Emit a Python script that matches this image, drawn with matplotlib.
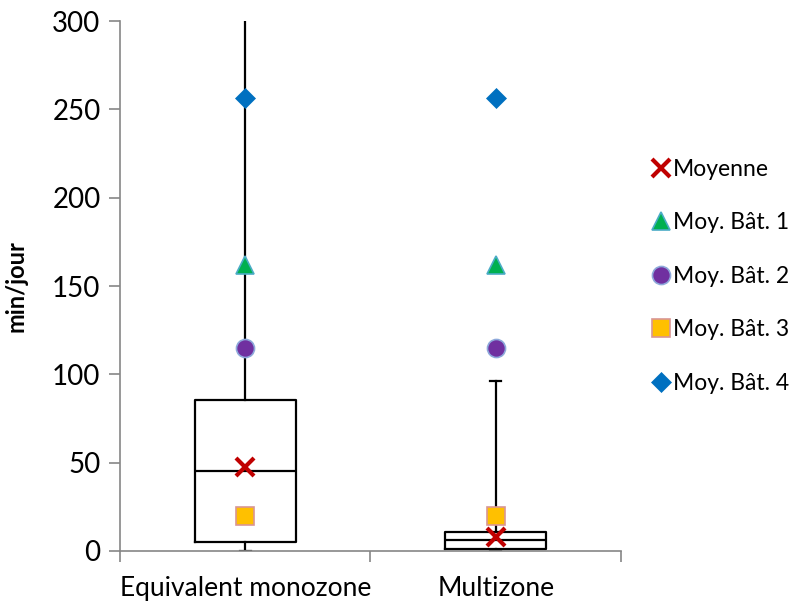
import matplotlib
matplotlib.use("Agg")
import matplotlib.pyplot as plt

plt.rcParams['font.family'] = ['Lato', 'DejaVu Sans']

# Données
categories = ['Equivalent monozone', 'Multizone']
whis_bas = [0, 0]
q1 = [5, 1.3]
mediane = [45.4, 6.0]
q3 = [85.5, 10.9]
whis_haut = [330, 96]
moyenne = [47.5, 7.7]
moy_bat1 = [162, 162]
moy_bat2 = [115, 115]
moy_bat3 = [20, 20]
moy_bat4 = [256.5, 256.5]

pos = [1, 2]

fig = plt.figure(figsize=(8.03, 6.06), dpi=100)
ax = fig.add_axes([0.1494, 0.0908, 0.6239, 0.8745])

stats = []
for i in range(len(categories)):
    stats.append(dict(whislo=whis_bas[i], q1=q1[i], med=mediane[i],
                      q3=q3[i], whishi=whis_haut[i], fliers=[]))

ax.bxp(stats, positions=pos, widths=0.404, capwidths=0.045,
       showfliers=False,
       boxprops=dict(color='black', linewidth=1.6),
       medianprops=dict(color='black', linewidth=1.6),
       whiskerprops=dict(color='black', linewidth=1.6),
       capprops=dict(color='black', linewidth=1.6))

ax.plot(pos, moyenne, ls='none', marker='x', ms=13, mew=3,
        color='#C00000', label='Moyenne', zorder=5)
ax.plot(pos, moy_bat1, ls='none', marker='^', ms=13, mew=1.2,
        mfc='#00B050', mec='#4BACC6', label='Moy. Bât. 1', zorder=5)
ax.plot(pos, moy_bat2, ls='none', marker='o', ms=13, mew=1.2,
        mfc='#7030A0', mec='#8EA9DB', label='Moy. Bât. 2', zorder=5)
ax.plot(pos, moy_bat3, ls='none', marker='s', ms=13, mew=1.2,
        mfc='#FFC000', mec='#D99694', label='Moy. Bât. 3', zorder=5)
ax.plot(pos, moy_bat4, ls='none', marker='D', ms=10, mew=0.5,
        mfc='#0070C0', mec='#0070C0', label='Moy. Bât. 4', zorder=5)

ax.set_xlim(0.5, 2.5)
ax.set_ylim(0, 300)
ax.set_yticks(range(0, 301, 50))
ax.set_xticks([0.5, 1.5, 2.5], minor=False)
ax.set_xticklabels([])
ax.set_xticks(pos, minor=True)
ax.set_xticklabels(categories, minor=True, fontsize=19)
ax.tick_params(axis='x', which='minor', length=0, pad=18)
ax.tick_params(axis='x', which='major', length=8, color='#868686', width=1.2)
ax.tick_params(axis='y', length=8, color='#868686', width=1.2,
               labelsize=20, pad=6)

for s in ['top', 'right']:
    ax.spines[s].set_visible(False)
for s in ['left', 'bottom']:
    ax.spines[s].set_color('#868686')
    ax.spines[s].set_linewidth(1.2)

ax.set_ylabel('min/jour', fontsize=17, fontweight='bold', labelpad=18)

leg = fig.legend(loc='upper left', bbox_to_anchor=(0.797, 0.757),
                 frameon=False, fontsize=16.5, handlelength=0.8,
                 handletextpad=0.15, labelspacing=1.42, borderpad=0)

fig.savefig('out.png', dpi=100)
